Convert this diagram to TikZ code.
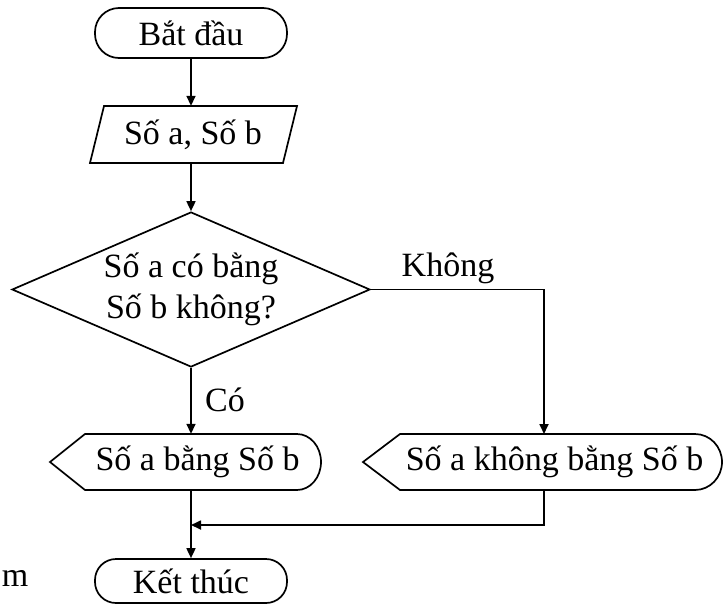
\documentclass[tikz,border=0pt]{standalone}
\usepackage{fontspec}
\setmainfont{Liberation Serif}
\usetikzlibrary{shapes.geometric,arrows.meta}

\tikzset{
  every node/.style={font=\fontsize{34}{41}\selectfont, inner sep=0pt},
  flowline/.style={line width=1.7pt},
  flowarrow/.style={flowline, -{Triangle[length=10pt,width=9pt]}},
  terminal/.style={draw, line width=1.7pt, rectangle, rounded corners=24pt,
    minimum width=192pt, minimum height=50pt},
  blank/.style={rectangle, draw=none},
  decision/.style={draw, line width=1.7pt, diamond, aspect=2.31,
    minimum width=358pt, minimum height=155pt, align=center},
  outline/.style={line width=1.7pt, line join=miter},
}

\begin{document}
\begin{tikzpicture}[x=1pt,y=-1pt]
  \useasboundingbox (0,0) rectangle (728,603);

  % start / end terminals
  \node[terminal] (start) at (191,33) {Bắt đầu};
  \node[terminal, minimum height=44pt, rounded corners=21pt] (stop) at (191,581) {Kết thúc};

  % input parallelogram
  \node[blank, minimum width=193pt, minimum height=57pt] (in) at (193.5,134.5) {};
  \draw[outline] (104,106) -- (297,106) -- (283,163) -- (90,163) -- cycle;
  \node (intxt) at (193,135) {Số a, Số b};

  % decision
  \node[decision] (dec) at (191,289.5) {Số a có bằng\\Số b không?};

  % display boxes
  \node[blank, minimum width=271pt, minimum height=56pt] (yes) at (185.5,462) {};
  \draw[outline] (85,434) -- (297,434) arc[start angle=-90, end angle=90, x radius=24, y radius=28]
    -- (85,490) -- (50,462) -- cycle;
  \node (yestxt) at (197.5,462) {Số a bằng Số b};

  \node[blank, minimum width=359pt, minimum height=56pt] (no) at (542.5,462) {};
  \draw[outline] (400,434) -- (695,434) arc[start angle=-90, end angle=90, x radius=27, y radius=28]
    -- (400,490) -- (363,462) -- cycle;
  \node (notxt) at (554.5,462) {Số a không bằng Số b};

  % labels
  \node (lblyes) at (225,400) {Có};
  \node (lblno) at (448,268) {Không};
  \node (stray) at (15,578) {m};

  % connectors
  \coordinate (join) at (191,525);
  \draw[flowarrow] (start.south) -- (start.south |- in.north);
  \draw[flowarrow] (in.south -| dec.north) -- (dec.north);
  \draw[flowarrow] (dec.south) -- (dec.south |- yes.north);
  \draw[flowarrow] (dec.east) -| (544,434);
  \draw[flowarrow] (544,490) |- (join);
  \draw[flowarrow] (dec.south |- yes.south) -- (stop.north);
\end{tikzpicture}
\end{document}
